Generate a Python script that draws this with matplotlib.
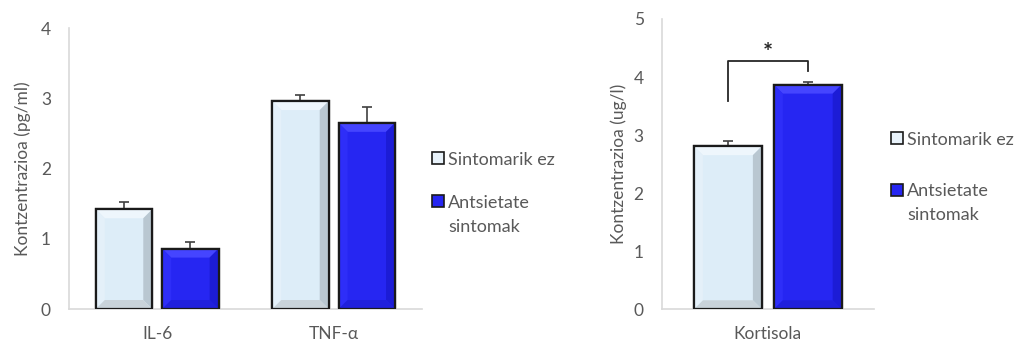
import numpy as np
import matplotlib.pyplot as plt
from matplotlib.patches import Polygon, Rectangle
from matplotlib.transforms import offset_copy

plt.rcParams['font.family'] = ['Lato', 'DejaVu Sans']

# cytokines (left panel)
cyto_labels = ['IL-6', 'TNF-α']
cyto_none = [1.42, 2.96]
cyto_none_err = [0.10, 0.09]
cyto_anx = [0.86, 2.65]
cyto_anx_err = [0.09, 0.22]

# cortisol (right panel)
cort_labels = ['Kortisola']
cort_none = [2.81]
cort_none_err = [0.08]
cort_anx = [3.87]
cort_anx_err = [0.05]

groups = ['Sintomarik ez', 'Antsietate\nsintomak']
grey = '#595959'
light = '#DDEDF8'
blue = '#2626F2'


def bevel(ax, bars, base, top_c, left_c, right_c, bottom_c, px=9):
    # fake the Excel "bevel" look with four trapezoids inside each bar
    fig = ax.figure
    fig.canvas.draw()
    inv = ax.transData.inverted()
    for b in bars:
        x0, y0 = b.get_x(), b.get_y()
        x1, y1 = x0 + b.get_width(), y0 + b.get_height()
        p0 = ax.transData.transform((x0, y0))
        p1 = ax.transData.transform((x1, y1))
        d = px * fig.dpi / 100
        q0 = inv.transform((p0[0] + d, p0[1] + d))
        q1 = inv.transform((p1[0] - d, p1[1] - d))
        sides = [
            ([(x0, y1), (x1, y1), (q1[0], q1[1]), (q0[0], q1[1])], top_c),
            ([(x0, y0), (x0, y1), (q0[0], q1[1]), (q0[0], q0[1])], left_c),
            ([(x1, y0), (x1, y1), (q1[0], q1[1]), (q1[0], q0[1])], right_c),
            ([(x0, y0), (x1, y0), (q1[0], q0[1]), (q0[0], q0[1])], bottom_c),
        ]
        for pts, c in sides:
            ax.add_patch(Polygon(pts, closed=True, facecolor=c, edgecolor='none', zorder=2.5))
        # redraw outline on top
        ax.add_patch(plt.Rectangle((x0, y0), x1 - x0, y1 - y0, fill=False,
                                   edgecolor=base, lw=1.6, zorder=3))


def style(ax, ylab, ymax, lpad):
    for s in ['top', 'right']:
        ax.spines[s].set_visible(False)
    ax.spines['left'].set_color('#D9D9D9')
    ax.spines['bottom'].set_color('#D9D9D9')
    ax.spines['left'].set_linewidth(1.2)
    ax.spines['bottom'].set_linewidth(1.2)
    ax.tick_params(length=0, colors=grey, labelsize=12.5)
    ax.tick_params(axis='x', pad=12)
    ax.tick_params(axis='y', pad=13)
    ax.set_ylim(0, ymax)
    ax.set_yticks(range(ymax + 1))
    ax.set_ylabel(ylab, color=grey, fontsize=12.5, labelpad=lpad)


def legend(ax, xm, ys, colors, size=12, gap=4, line=24):
    # hand-made legend: square marker lined up with the first text line
    fig = ax.figure
    for lab, y, c in zip(groups, ys, colors):
        px, py = ax.transAxes.transform((xm, y))
        fig.patches.append(Rectangle((px, py - size / 2), size, size, facecolor=c,
                                     edgecolor='#1a1a1a', lw=1.2, transform=None))
        for i, part in enumerate(lab.split('\n')):
            tr = offset_copy(ax.transAxes, fig, x=size + gap, y=-i * line, units='dots')
            ax.text(xm, y, part, transform=tr, ha='left', va='center_baseline',
                    fontsize=13, color=grey, clip_on=False)


fig = plt.figure(figsize=(10.18, 3.44), dpi=100)
ax1 = fig.add_axes([0.0678, 0.1017, 0.3466, 0.8169])
ax2 = fig.add_axes([0.650, 0.1009, 0.2085, 0.8439])

w = 0.32
off = 0.188
err_kw = dict(ecolor='#404040', elinewidth=1.2, capsize=3.5, capthick=1.2)

x = np.arange(len(cyto_labels))
b1 = ax1.bar(x - off, cyto_none, w, color=light, edgecolor='#1a1a1a', lw=1.6, zorder=2,
             yerr=[np.zeros(len(x)), cyto_none_err], error_kw=err_kw)
b2 = ax1.bar(x + off, cyto_anx, w, color=blue, edgecolor='#1a1a1a', lw=1.6, zorder=2,
             yerr=[np.zeros(len(x)), cyto_anx_err], error_kw=err_kw)
ax1.set_xlim(-0.5, 1.5)
ax1.set_xticks(x, cyto_labels)
style(ax1, 'Kontzentrazioa (pg/ml)', 4, 7)

x2 = np.arange(len(cort_labels))
c1 = ax2.bar(x2 - off, cort_none, w, color=light, edgecolor='#1a1a1a', lw=1.6, zorder=2,
             yerr=[np.zeros(len(x2)), cort_none_err], error_kw=err_kw)
c2 = ax2.bar(x2 + off, cort_anx, w, color=blue, edgecolor='#1a1a1a', lw=1.6, zorder=2,
             yerr=[np.zeros(len(x2)), cort_anx_err], error_kw=err_kw)
ax2.set_xlim(-0.5, 0.5)
ax2.set_xticks(x2, cort_labels)
style(ax2, 'Kontzentrazioa (ug/l)', 5, 5)

for ax, lb, bb in [(ax1, b1, b2), (ax2, c1, c2)]:
    bevel(ax, lb, '#1a1a1a', '#EEF6FC', '#E4F0F9', '#B9C7D1', '#C9D3DA')
    bevel(ax, bb, '#1a1a1a', '#4545FF', '#2E2EF8', '#1C1CD6', '#2020DC')

# significance bracket
bx0, bx1 = x2[0] - off, x2[0] + off
ax2.plot([bx0, bx0, bx1, bx1], [3.58, 4.27, 4.27, 4.11], color='#262626', lw=1.3)
ax2.text(x2[0], 4.40, '*', ha='center', va='center', fontsize=17,
         fontweight='bold', color='#262626')

legend(ax1, 1.029, [0.537, 0.384], ['#E8F2FA', blue])
legend(ax2, 1.080, [0.590, 0.411], ['#E8F2FA', blue])

fig.savefig('out.png', dpi=100)
